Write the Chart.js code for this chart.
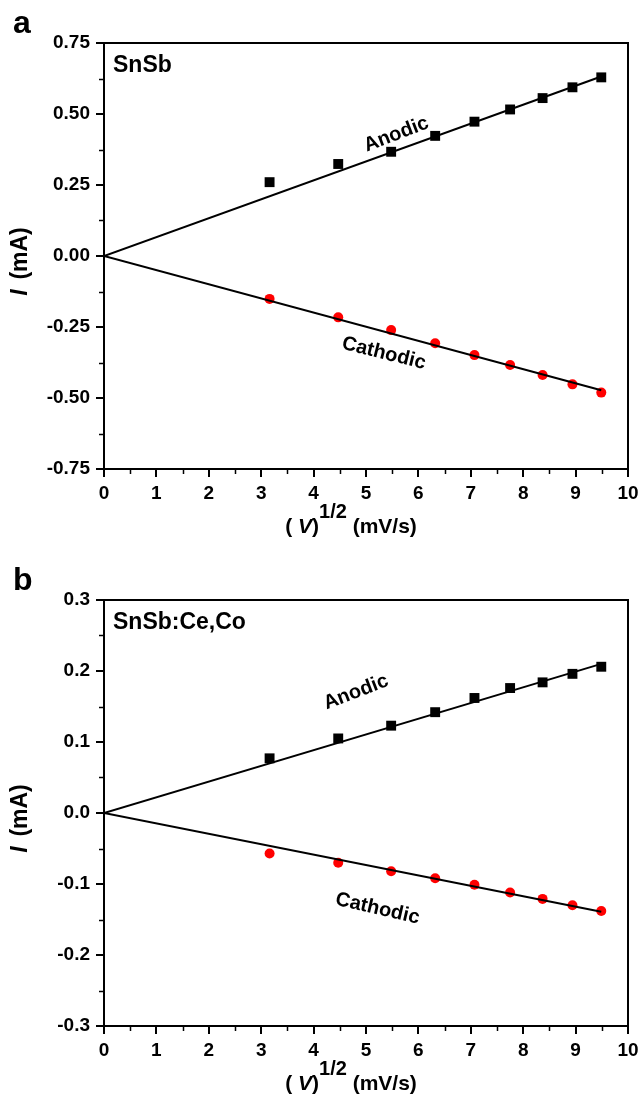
<!DOCTYPE html>
<html>
<head>
<meta charset="utf-8">
<script src="https://cdn.jsdelivr.net/npm/chart.js@4.4.1/dist/chart.umd.min.js"></script>
<style>
  html, body { margin: 0; padding: 0; background: #fff; }
  body { width: 640px; height: 1095px; position: relative; overflow: hidden; }
  .panel { position: absolute; left: 0; width: 640px; }
  #panelA { top: 0; height: 557px; }
  #panelB { top: 557px; height: 538px; }
</style>
</head>
<body>
<div class="panel" id="panelA"><canvas id="chartA" width="640" height="557"></canvas></div>
<div class="panel" id="panelB"><canvas id="chartB" width="640" height="538"></canvas></div>
<script>
// square root of scan rate, (mV/s)^1/2
const sqrtRate = [3.16, 4.47, 5.48, 6.32, 7.07, 7.75, 8.37, 8.94, 9.49];

// panel a - SnSb
const anodicA = [0.260, 0.324, 0.367, 0.423, 0.473, 0.516, 0.556, 0.594, 0.629];
const cathodicA = [-0.151, -0.216, -0.261, -0.307, -0.349, -0.384, -0.419, -0.452, -0.481];

// panel b - SnSb:Ce,Co
const anodicB = [0.077, 0.105, 0.123, 0.142, 0.162, 0.176, 0.184, 0.196, 0.206];
const cathodicB = [-0.057, -0.070, -0.082, -0.092, -0.101, -0.112, -0.121, -0.130, -0.138];

// linear fits through the origin
const fitX = [0, 9.49];
const anodicFitA = [0, 0.632];
const cathodicFitA = [0, -0.473];
const anodicFitB = [0, 0.210];
const cathodicFitB = [0, -0.139];

// axis ticks
const xTicks = [0, 1, 2, 3, 4, 5, 6, 7, 8, 9, 10];
const yTicksA = [-0.75, -0.5, -0.25, 0, 0.25, 0.5, 0.75];
const yTicksB = [-0.3, -0.2, -0.1, 0, 0.1, 0.2, 0.3];

const FONT = "'Liberation Sans', Arial, sans-serif";

function pts(xs, ys) {
  return xs.map((x, i) => ({ x: x, y: ys[i] }));
}

// Frame, minor ticks and all the free text
const decorPlugin = {
  id: 'decor',
  afterDraw(chart, args, opts) {
    const ctx = chart.ctx;
    const area = chart.chartArea;
    const xs = chart.scales.x;
    const ys = chart.scales.y;
    ctx.save();
    ctx.strokeStyle = '#000';
    ctx.lineWidth = 2;

    // top and right border
    ctx.beginPath();
    ctx.moveTo(area.left - 1, area.top);
    ctx.lineTo(area.right, area.top);
    ctx.lineTo(area.right, area.bottom + 1);
    ctx.stroke();

    // minor ticks halfway between majors
    ctx.lineWidth = 1.5;
    ctx.beginPath();
    for (let i = 0; i < xTicks.length - 1; i++) {
      const px = Math.round(xs.getPixelForValue((xTicks[i] + xTicks[i + 1]) / 2)) + 0.5;
      ctx.moveTo(px, area.bottom);
      ctx.lineTo(px, area.bottom + 5);
    }
    const yt = opts.yTicks;
    for (let i = 0; i < yt.length - 1; i++) {
      const py = Math.round(ys.getPixelForValue((yt[i] + yt[i + 1]) / 2)) + 0.5;
      ctx.moveTo(area.left, py);
      ctx.lineTo(area.left - 5, py);
    }
    ctx.stroke();

    ctx.fillStyle = '#000';

    // panel letter and sample name
    ctx.textBaseline = 'alphabetic';
    ctx.textAlign = 'left';
    ctx.font = 'bold 32px ' + FONT;
    ctx.fillText(opts.letter, 13, 33);
    ctx.font = 'bold 23px ' + FONT;
    ctx.fillText(opts.sample, 113, 72);

    // curve labels
    ctx.textAlign = 'center';
    ctx.textBaseline = 'middle';
    ctx.font = 'bold 20px ' + FONT;
    opts.curveLabels.forEach(l => {
      ctx.save();
      ctx.translate(xs.getPixelForValue(l.x), ys.getPixelForValue(l.y));
      ctx.rotate(l.rot * Math.PI / 180);
      ctx.fillText(l.text, 0, 0);
      ctx.restore();
    });

    // y title: I (mA), I in italics
    ctx.save();
    ctx.translate(21, (area.top + area.bottom) / 2 + 4);
    ctx.rotate(-Math.PI / 2);
    ctx.textAlign = 'left';
    ctx.textBaseline = 'middle';
    const fI = 'italic bold 23px ' + FONT;
    const fR = 'bold 23px ' + FONT;
    ctx.font = fI;
    const wI = ctx.measureText('I ').width;
    ctx.font = fR;
    const wR = ctx.measureText(' (mA)').width;
    const cx = -(wI + wR) / 2;
    ctx.font = fI;
    ctx.fillText('I', cx, 0);
    ctx.font = fR;
    ctx.fillText(' (mA)', cx + wI - 3, 0);
    ctx.restore();

    // x title: (V)^1/2 (mV/s)
    const base = area.bottom + 64;
    const fMain = 'bold 21px ' + FONT;
    const fIt = 'italic bold 21px ' + FONT;
    const fSup = 'bold 20px ' + FONT;
    const parts = [
      { t: '( ', f: fMain, dy: 0 },
      { t: 'V', f: fIt, dy: 0 },
      { t: ')', f: fMain, dy: 0 },
      { t: '1/2', f: fSup, dy: -15 },
      { t: ' (mV/s)', f: fMain, dy: 0 }
    ];
    let total = 0;
    parts.forEach(p => { ctx.font = p.f; p.w = ctx.measureText(p.t).width; total += p.w; });
    let tx = 351 - total / 2;
    ctx.textAlign = 'left';
    ctx.textBaseline = 'alphabetic';
    parts.forEach(p => {
      ctx.font = p.f;
      ctx.fillText(p.t, tx, base + p.dy);
      tx += p.w;
    });
    ctx.restore();
  }
};

function noEdgePadding(s) {
  s.paddingLeft = 0;
  s.paddingRight = 0;
  s.paddingTop = 0;
  s.paddingBottom = 0;
}

function makePanel(canvasId, cfg) {
  const tickFont = { family: FONT, size: 19, weight: 'bold' };
  return new Chart(document.getElementById(canvasId), {
    type: 'scatter',
    data: {
      datasets: [
        {
          label: 'Anodic fit',
          data: pts(fitX, cfg.anodicFit),
          showLine: true,
          borderColor: '#000',
          borderWidth: 2,
          pointRadius: 0,
          order: 1
        },
        {
          label: 'Cathodic fit',
          data: pts(fitX, cfg.cathodicFit),
          showLine: true,
          borderColor: '#000',
          borderWidth: 2,
          pointRadius: 0,
          order: 1
        },
        {
          label: 'Anodic',
          data: pts(sqrtRate, cfg.anodic),
          pointStyle: 'rect',
          pointRadius: 7,
          backgroundColor: '#000',
          borderWidth: 0,
          order: 2
        },
        {
          label: 'Cathodic',
          data: pts(sqrtRate, cfg.cathodic),
          pointStyle: 'circle',
          pointRadius: 5,
          backgroundColor: '#ff0000',
          borderWidth: 0,
          order: 2
        }
      ]
    },
    options: {
      responsive: false,
      animation: false,
      devicePixelRatio: 1,
      layout: { padding: { top: 43, right: 12, left: 0, bottom: 0 } },
      plugins: {
        legend: { display: false },
        tooltip: { enabled: false },
        decor: {
          letter: cfg.letter,
          sample: cfg.sample,
          yTicks: cfg.yTicks,
          curveLabels: cfg.curveLabels
        }
      },
      scales: {
        x: {
          type: 'linear',
          min: 0,
          max: 10,
          afterBuildTicks: s => { s.ticks = xTicks.map(v => ({ value: v })); },
          afterFit: s => { s.height = cfg.xAxisHeight; noEdgePadding(s); },
          ticks: {
            font: tickFont,
            color: '#000',
            padding: 5,
            maxRotation: 0,
            autoSkip: false,
            callback: v => String(v)
          },
          grid: { drawOnChartArea: false, tickLength: 8, color: '#000', lineWidth: 2 },
          border: { display: true, color: '#000', width: 2 }
        },
        y: {
          type: 'linear',
          min: cfg.yTicks[0],
          max: cfg.yTicks[cfg.yTicks.length - 1],
          afterBuildTicks: s => { s.ticks = cfg.yTicks.map(v => ({ value: v })); },
          afterFit: s => { s.width = 104; noEdgePadding(s); },
          ticks: {
            font: tickFont,
            color: '#000',
            padding: 6,
            autoSkip: false,
            callback: v => Number(v).toFixed(cfg.decimals)
          },
          grid: { drawOnChartArea: false, tickLength: 8, color: '#000', lineWidth: 2 },
          border: { display: true, color: '#000', width: 2 }
        }
      }
    },
    plugins: [decorPlugin]
  });
}

makePanel('chartA', {
  letter: 'a',
  sample: 'SnSb',
  anodic: anodicA,
  cathodic: cathodicA,
  anodicFit: anodicFitA,
  cathodicFit: cathodicFitA,
  yTicks: yTicksA,
  decimals: 2,
  xAxisHeight: 88,
  curveLabels: [
    { text: 'Anodic', x: 5.58, y: 0.428, rot: -21 },
    { text: 'Cathodic', x: 5.34, y: -0.343, rot: 14 }
  ]
});

makePanel('chartB', {
  letter: 'b',
  sample: 'SnSb:Ce,Co',
  anodic: anodicB,
  cathodic: cathodicB,
  anodicFit: anodicFitB,
  cathodicFit: cathodicFitB,
  yTicks: yTicksB,
  decimals: 1,
  xAxisHeight: 69,
  curveLabels: [
    { text: 'Anodic', x: 4.81, y: 0.170, rot: -21 },
    { text: 'Cathodic', x: 5.22, y: -0.135, rot: 13 }
  ]
});
</script>
</body>
</html>
